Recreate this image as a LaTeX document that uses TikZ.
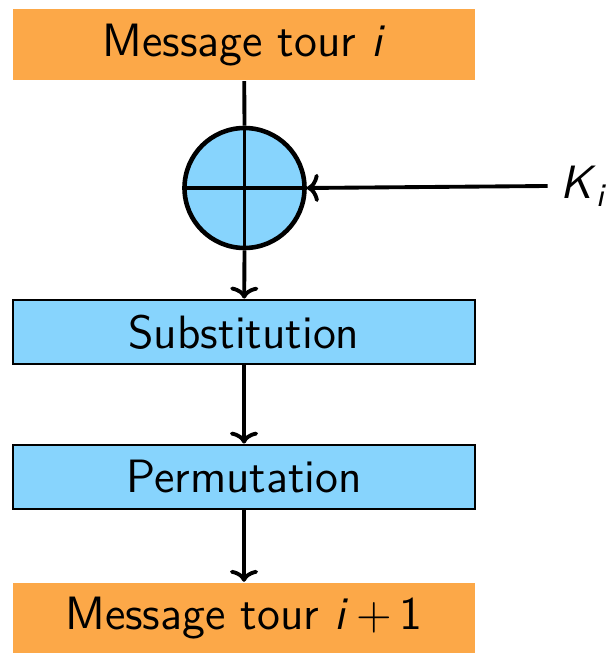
\documentclass[tikz,border=0pt]{standalone}
\usepackage{tikz}
\usepackage{xcolor}
\usetikzlibrary{arrows.meta,positioning}

\definecolor{tourorange}{RGB}{252,168,72}
\definecolor{stepblue}{RGB}{135,212,253}

\begin{document}
\begin{tikzpicture}[
  font=\fontsize{13.3}{16}\selectfont\sffamily,
  msg/.style={fill=tourorange, minimum width=4.62cm, minimum height=0.71cm, align=center},
  stage/.style={draw, line width=0.8pt, fill=stepblue, minimum width=4.62cm, minimum height=0.64cm, align=center},
  arrow/.style={-{To[length=3.4pt,width=8pt]}, line width=1.1pt}
]
\useasboundingbox (0,0) rectangle (6.08,-6.53);

\node[msg] (tour) at (2.44,-0.45) {Message tour \textit{i}};
\node[draw, circle, line width=1.3pt, fill=stepblue, minimum size=1.2cm, inner sep=0pt] (xor) at (2.445,-1.88) {};
\node (key) at (5.84,-1.86) {\textit{K}\textsubscript{\textit{i}}};
\node[stage] (subst) at (2.44,-3.32) {Substitution};
\node[stage] (perm) at (2.44,-4.77) {Permutation};
\node[msg] (next) at (2.44,-6.18) {Message tour \textit{i}\,+\,1};

% xor with the round key
\draw[line width=1.1pt] (tour) -- (xor.north);
\draw[line width=1.1pt] (xor.north) -- (xor.south);
\draw[line width=1.1pt] (xor.west) -- (xor.east);
\draw[arrow] (key.west) -- (xor.east);

\draw[arrow] (xor.south) -- (subst);
\draw[arrow] (subst) -- (perm);
\draw[arrow] (perm) -- (next);
\end{tikzpicture}
\end{document}
